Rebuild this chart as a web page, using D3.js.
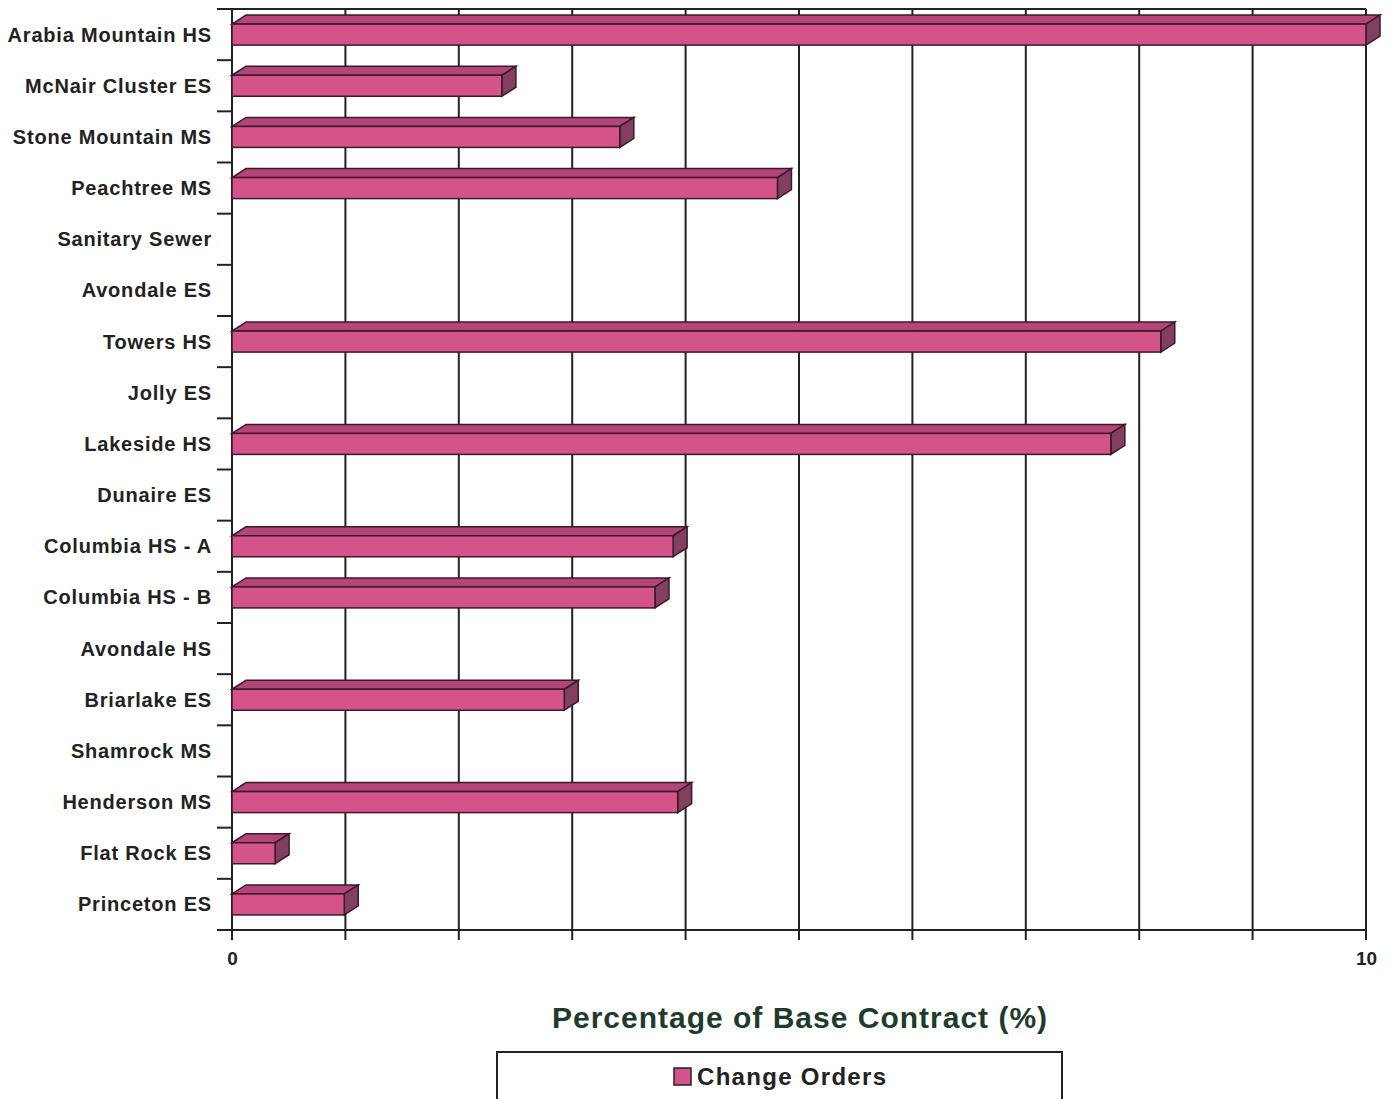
<!DOCTYPE html>
<html>
<head>
<meta charset="utf-8">
<script src="https://cdn.jsdelivr.net/npm/d3@7"></script>
<style>
  body { margin: 0; background: #fff; }
  text { font-family: "Liberation Sans", Arial, sans-serif; }
</style>
</head>
<body>
<div id="chart"></div>
<script>
// categories top to bottom
const schools = ["Arabia Mountain HS", "McNair Cluster ES", "Stone Mountain MS", "Peachtree MS",
  "Sanitary Sewer", "Avondale ES", "Towers HS", "Jolly ES", "Lakeside HS", "Dunaire ES",
  "Columbia HS - A", "Columbia HS - B", "Avondale HS", "Briarlake ES", "Shamrock MS",
  "Henderson MS", "Flat Rock ES", "Princeton ES"];
// change orders, % of base contract
const changeOrders = [10.0, 2.38, 3.42, 4.81, 0, 0, 8.19, 0, 7.75, 0,
  3.89, 3.73, 0, 2.93, 0, 3.93, 0.38, 0.99];
const xTickLabels = [0, 10];
const seriesName = "Change Orders";

const W = 1393, H = 1099;
const plotL = 232, plotR = 1366, plotT = 9, plotB = 930;
const dx = 14, dy = 9;   // 3d depth

const svg = d3.select("#chart").append("svg")
  .attr("width", W).attr("height", H);

const x = d3.scaleLinear().domain([0, 10]).range([plotL, plotR]);
const y = d3.scaleBand().domain(schools).range([plotT, plotB]);

// vertical gridlines
svg.append("g")
  .selectAll("line")
  .data(d3.range(0, 11))
  .join("line")
  .attr("x1", d => x(d)).attr("x2", d => x(d))
  .attr("y1", plotT).attr("y2", plotB + 10)
  .attr("stroke", "#222").attr("stroke-width", 2);

// top border
svg.append("line")
  .attr("x1", 217).attr("x2", plotR)
  .attr("y1", plotT).attr("y2", plotT)
  .attr("stroke", "#222").attr("stroke-width", 2);

// left axis with ticks at band boundaries
svg.append("g")
  .selectAll("line")
  .data(d3.range(0, schools.length + 1))
  .join("line")
  .attr("x1", 217).attr("x2", plotL)
  .attr("y1", i => plotT + i * y.step()).attr("y2", i => plotT + i * y.step())
  .attr("stroke", "#222").attr("stroke-width", 2);

// bottom axis
const xAxis = d3.axisBottom(x).tickValues(xTickLabels).tickSize(0).tickPadding(22);
const gx = svg.append("g").attr("transform", `translate(0,${plotB})`).call(xAxis);
gx.select(".domain").remove();
gx.selectAll("text").attr("font-size", 19).attr("font-weight", "bold").attr("fill", "#222")
  .style("font-family", "Liberation Sans, Arial, sans-serif");
svg.append("line")
  .attr("x1", 217).attr("x2", plotR)
  .attr("y1", plotB).attr("y2", plotB)
  .attr("stroke", "#222").attr("stroke-width", 2);

// category labels
svg.append("g")
  .selectAll("text")
  .data(schools)
  .join("text")
  .attr("x", 212)
  .attr("y", d => y(d) + y.bandwidth() / 2)
  .attr("dy", "0.35em")
  .attr("text-anchor", "end")
  .attr("font-size", 20)
  .attr("font-weight", "bold")
  .attr("letter-spacing", "0.8px")
  .attr("fill", "#222")
  .text(d => d);

// 3d bars
const barH = 21;
const bars = svg.append("g")
  .selectAll("g")
  .data(schools.map((s, i) => ({ s, v: changeOrders[i] })).filter(d => d.v > 0))
  .join("g");

bars.append("path")   // top face
  .attr("d", d => {
    const y0 = y(d.s) + y.bandwidth() / 2 - barH / 2;
    const x0 = x(0), x1 = x(d.v);
    return `M${x0},${y0} L${x0 + dx},${y0 - dy} L${x1 + dx},${y0 - dy} L${x1},${y0} Z`;
  })
  .attr("fill", "#b3457a").attr("stroke", "#3a1a28").attr("stroke-width", 1.5);

bars.append("path")   // side face
  .attr("d", d => {
    const y0 = y(d.s) + y.bandwidth() / 2 - barH / 2;
    const x1 = x(d.v);
    return `M${x1},${y0} L${x1 + dx},${y0 - dy} L${x1 + dx},${y0 + barH - dy} L${x1},${y0 + barH} Z`;
  })
  .attr("fill", "#823f5f").attr("stroke", "#3a1a28").attr("stroke-width", 1.5);

bars.append("rect")   // front face
  .attr("x", x(0))
  .attr("y", d => y(d.s) + y.bandwidth() / 2 - barH / 2)
  .attr("width", d => x(d.v) - x(0))
  .attr("height", barH)
  .attr("fill", "#d4548a").attr("stroke", "#3a1a28").attr("stroke-width", 1.5);

// axis title
svg.append("text")
  .attr("x", 800).attr("y", 1028)
  .attr("text-anchor", "middle")
  .attr("font-size", 30).attr("font-weight", "bold")
  .attr("letter-spacing", "1px")
  .attr("fill", "#1f3b2c")
  .text("Percentage of Base Contract (%)");

// legend
svg.append("rect")
  .attr("x", 497).attr("y", 1052).attr("width", 565).attr("height", 60)
  .attr("fill", "none").attr("stroke", "#222").attr("stroke-width", 2);
svg.append("rect")
  .attr("x", 674).attr("y", 1068).attr("width", 17).attr("height", 17)
  .attr("fill", "#d4548a").attr("stroke", "#222").attr("stroke-width", 1.5);
svg.append("text")
  .attr("x", 697).attr("y", 1085)
  .attr("font-size", 24).attr("font-weight", "bold").attr("fill", "#222")
  .attr("letter-spacing", "1.3px")
  .text(seriesName);
</script>
</body>
</html>
